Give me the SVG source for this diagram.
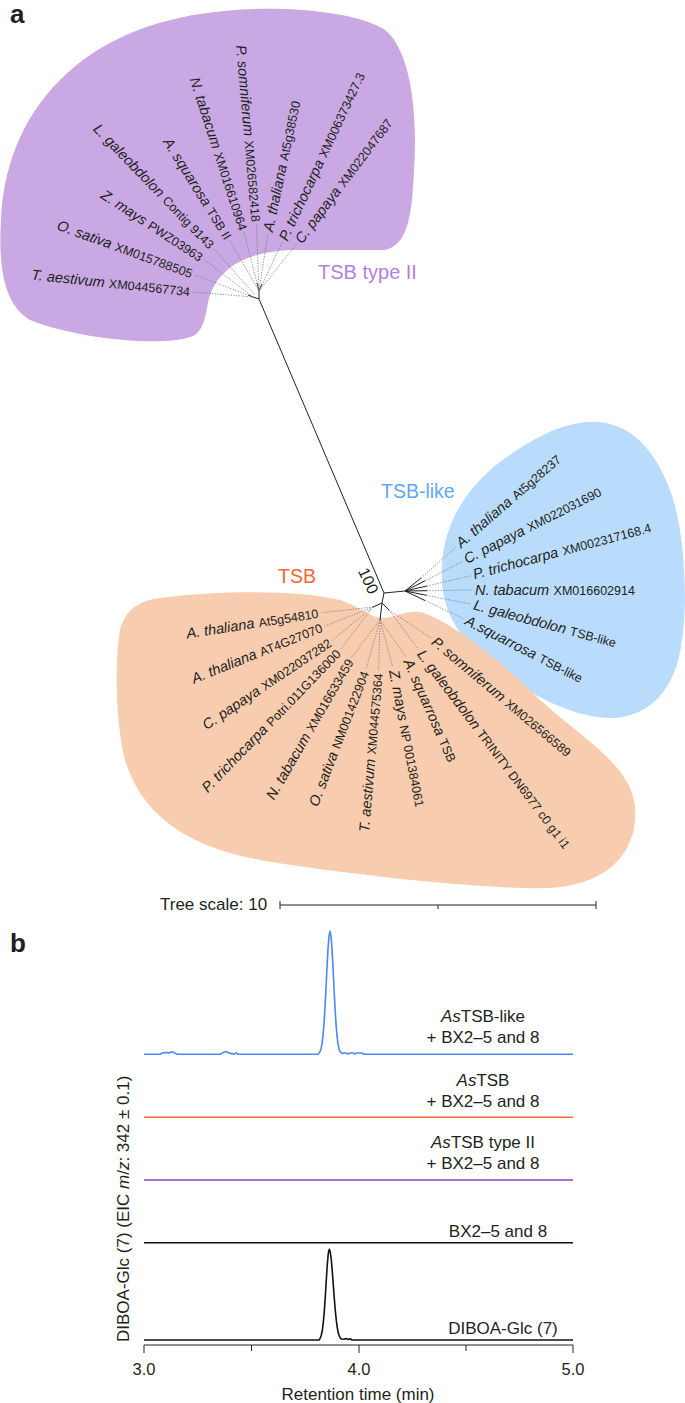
<svg xmlns="http://www.w3.org/2000/svg" width="685" height="1403" viewBox="0 0 685 1403">
<style>
text{font-family:"Liberation Sans",Arial,sans-serif;fill:#231f20}
.sp{font-style:italic;font-size:14.5px}
.ac{font-size:12.5px}
.dot{stroke:#777;stroke-width:0.8;stroke-dasharray:1.3 1.4;fill:none}
.br{stroke:#222;stroke-width:1;fill:none}
.pl{font-size:17px}
.tr{fill:none;stroke-width:1.6;stroke-linejoin:round}
.ax{stroke:#222;stroke-width:1;fill:none}
.it{font-style:italic}
</style>
<rect width="685" height="1403" fill="#fff"/>
<text x="10" y="23" style="font-weight:bold;font-size:26px">a</text>
<text x="10" y="952" style="font-weight:bold;font-size:26px">b</text>

<g id="clade-tsb2">
<path d="M200,14 C260,4 350,8 385,30 C410,50 418,110 414,170 C412,215 408,245 385,250 L300,250 C255,250 225,262 212,290 C205,305 208,325 195,335 C170,348 80,340 30,320 C5,305 -2,270 1,220 C3,170 20,120 60,80 C100,40 150,22 200,14 Z" fill="#c9a8e4"/>
<text x="318" y="279" style="font-size:20px;fill:#b47fdf">TSB type II</text>
</g>
<g id="clade-tsblike">
<path d="M590,422 C630,420 655,450 670,490 C685,530 688,600 682,640 C676,690 650,715 615,718 C570,720 510,685 475,650 C450,625 440,600 442,565 C444,520 470,485 500,462 C530,440 560,423 590,422 Z" fill="#badcfc"/>
<text x="381" y="498" style="font-size:19.5px;fill:#5ea8f4">TSB-like</text>
</g>
<g id="clade-tsb">
<path d="M160,598 C220,590 300,590 340,600 C360,607 372,618 382,618 C395,618 405,610 420,612 C450,620 500,660 540,700 C590,745 640,770 635,820 C632,860 600,885 550,888 C480,890 330,872 260,860 C180,845 140,810 125,760 C115,720 115,660 120,630 C125,610 140,600 160,598 Z" fill="#f8ccaf"/>
<text x="278" y="583" style="font-size:19.5px;fill:#f4662c">TSB</text>
</g>

<g id="connectors">
<path class="br" d="M259,299 L384,593 M259,299 L253,297 M259,299 L259,291 M259,291 L257,283 M259,291 L262,284 M253,297 L248,295"/>
<path class="br" d="M384,593 L405,591 M405,591 L421,578 M405,591 L425,580.8 M405,591 L427,586 M405,591 L427,590.7 M405,591 L426.6,595.3 M405,591 L425,600.5"/>
<path class="br" d="M384,593 L382,603 M382,603 L373,607 M382,603 L380,620 M382,603 L389,610"/>
<path class="dot" d="M193,292 L253,297 M194.8,275 L253,297 M204.2,259.9 L253,297 M213.8,248.9 L255,295 M229.9,240.8 L259,291 M244.2,232.9 L259,291 M256.3,224.7 L259,291 M267.7,234.6 L259,291 M282,242.7 L259,291 M296.5,244.1 L259,291"/>
<path class="dot" d="M421,578 L456,547 M425,580.8 L462.3,561.4 M427,586 L470.4,575.8 M427,590.7 L472,590 M426.6,595.3 L471.1,604.2 M425,600.5 L463.3,618.6"/>
<path class="dot" d="M373,607 L321.3,612.8 M373,607 L324.5,626.2 M373,607 L332.5,640 M373,607 L340.4,649.5 M380,620 L351.5,657.4 M380,620 L366.1,668.9 M380,620 L378.6,670.3 M380,620 L392.7,667 M380,620 L406.1,657.3 M389,610 L418.2,649.3 M389,610 L431,638.1"/>
</g>
<text transform="translate(368.3,580.8) rotate(65)" text-anchor="middle" y="5.5" style="font-size:16px">100</text>

<g id="leaves-tsb2">
<g id="p1"><text transform="translate(189.5,296.2) rotate(6)" text-anchor="end"><tspan class="sp">T. aestivum</tspan> <tspan class="ac">XM044567734</tspan></text></g>
<g id="p2"><text transform="translate(190.5,278.2) rotate(20)" text-anchor="end"><tspan class="sp">O. sativa</tspan> <tspan class="ac">XM015788505</tspan></text></g>
<g id="p3"><text transform="translate(199.2,262.1) rotate(33)" text-anchor="end"><tspan class="sp">Z. mays</tspan> <tspan class="ac">PWZ03963</tspan></text></g>
<g id="p4"><text transform="translate(208.5,249.8) rotate(46)" text-anchor="end"><tspan class="sp">L. galeobdolon</tspan> <tspan class="ac">Contig 9143</tspan></text></g>
<g id="p5"><text transform="translate(224.5,240.7) rotate(58)" text-anchor="end"><tspan class="sp">A. squarosa</tspan> <tspan class="ac">TSB II</tspan></text></g>
<g id="p6"><text transform="translate(239,231.4) rotate(72)" text-anchor="end"><tspan class="sp">N. tabacum</tspan> <tspan class="ac">XM016610964</tspan></text></g>
<g id="p7"><text transform="translate(251.5,222.1) rotate(85)" text-anchor="end"><tspan class="sp">P. somniferum</tspan> <tspan class="ac">XM026582418</tspan></text></g>
<g id="p8"><text transform="translate(272.7,232.6) rotate(-78)"><tspan class="sp">A. thaliana</tspan> <tspan class="ac">At5g38530</tspan></text></g>
<g id="p9"><text transform="translate(287.4,241.9) rotate(-65)"><tspan class="sp">P. trichocarpa</tspan> <tspan class="ac">XM006373427.3</tspan></text></g>
<g id="p10"><text transform="translate(301.9,244.4) rotate(-53)"><tspan class="sp">C. papaya</tspan> <tspan class="ac">XM022047687</tspan></text></g>
</g>

<g id="leaves-tsblike">
<g id="b1"><text transform="translate(461.3,548.4) rotate(-41)"><tspan class="sp">A. thaliana</tspan> <tspan class="ac">At5g28237</tspan></text></g>
<g id="b2"><text transform="translate(467,564) rotate(-27)"><tspan class="sp">C. papaya</tspan> <tspan class="ac">XM022031690</tspan></text></g>
<g id="b3"><text transform="translate(474.5,579.3) rotate(-15)"><tspan class="sp">P. trichocarpa</tspan> <tspan class="ac">XM002317168.4</tspan></text></g>
<g id="b4"><text transform="translate(475,594.5)"><tspan class="sp">N. tabacum</tspan> <tspan class="ac">XM016602914</tspan></text></g>
<g id="b5"><text transform="translate(472.8,609.3) rotate(15)"><tspan class="sp">L. galeobdolon</tspan> <tspan class="ac">TSB-like</tspan></text></g>
<g id="b6"><text transform="translate(464,624) rotate(27)"><tspan class="sp">A.squarrosa</tspan> <tspan class="ac">TSB-like</tspan></text></g>
</g>

<g id="leaves-tsb">
<g id="o1"><text transform="translate(319,617.7) rotate(-9)" text-anchor="end"><tspan class="sp">A. thaliana</tspan> <tspan class="ac">At5g54810</tspan></text></g>
<g id="o2"><text transform="translate(323.4,631.5) rotate(-22)" text-anchor="end"><tspan class="sp">A. thaliana</tspan> <tspan class="ac">AT4G27070</tspan></text></g>
<g id="o3"><text transform="translate(332.5,645.4) rotate(-34)" text-anchor="end"><tspan class="sp">C. papaya</tspan> <tspan class="ac">XM022037282</tspan></text></g>
<g id="o4"><text transform="translate(341.5,654.8) rotate(-46)" text-anchor="end"><tspan class="sp">P. trichocarpa</tspan> <tspan class="ac">Potri.011G136000</tspan></text></g>
<g id="o5"><text transform="translate(353.9,662.3) rotate(-60)" text-anchor="end"><tspan class="sp">N. tabacum</tspan> <tspan class="ac">XM016633459</tspan></text></g>
<g id="o6"><text transform="translate(369.2,673.3) rotate(-69)" text-anchor="end"><tspan class="sp">O. sativa</tspan> <tspan class="ac">NM001422904</tspan></text></g>
<g id="o7"><text transform="translate(382.8,673.7) rotate(-85)" text-anchor="end"><tspan class="sp">T. aestivum</tspan> <tspan class="ac">XM044575364</tspan></text></g>
<g id="o8"><text transform="translate(388.9,670.9) rotate(79)"><tspan class="sp">Z. mays</tspan> <tspan class="ac">NP 001384061</tspan></text></g>
<g id="o9"><text transform="translate(403.2,661.8) rotate(66)"><tspan class="sp">A. squarrosa</tspan> <tspan class="ac">TSB</tspan></text></g>
<g id="o10"><text transform="translate(416.4,654.4) rotate(53)"><tspan class="sp">L. galeobdolon</tspan> <tspan class="ac">TRINITY DN6977 c0 g1 i1</tspan></text></g>
<g id="o11"><text transform="translate(430.4,643.4) rotate(40)"><tspan class="sp">P. somniferum</tspan> <tspan class="ac">XM026566589</tspan></text></g>
</g>

<g id="scale">
<text x="160" y="910" class="pl">Tree scale: 10</text>
<path class="ax" d="M280,905 L596,905 M280,901 L280,909 M596,901 L596,909 M438,905 L438,909"/>
</g>

<g id="chromatogram">
<path class="tr" stroke="#4d86f5" d="M144,1054.3 L160,1054.3 L162,1053 L166,1052.6 L170,1052.8 L172,1051.8 L174,1052.6 L177,1054.3 L220,1054.3 L223,1052.6 L226,1051.5 L229,1053 L232,1053.6 L234,1054.3 L236,1052.9 L238,1054.3 L318,1054.3 L319,1053.1 L320,1051.7 L321,1048.9 L322,1043.8 L323,1035.7 L324,1023.7 L325,1007.4 L326,988 L327,967.3 L328,948.9 L329,936 L330,931.3 L331,936 L332,948.9 L333,967.3 L334,988 L335,1007.4 L336,1023.7 L337,1035.7 L338,1043.8 L339,1048.9 L340,1051.7 L342,1053.5 L344,1053 L346,1053 L348,1054 L350,1053 L353,1053 L355,1054 L356,1053 L362,1053 L364,1054.3 L573,1054.3"/>
<path class="tr" stroke="#f26a30" d="M144,1117.3 L573,1117.3"/>
<path class="tr" stroke="#8b3fc7" d="M144,1180 L573,1180"/>
<path class="tr" stroke="#111" d="M144,1242.7 L573,1242.7"/>
<path class="tr" stroke="#111" d="M144,1340 L319.3,1340 L320.3,1337.8 L321.3,1335.2 L322.3,1330.5 L323.3,1322.7 L324.3,1311.2 L325.3,1296.5 L326.3,1280 L327.3,1264.5 L328.3,1253.4 L329.3,1249.3 L330.3,1252.1 L331.3,1260 L332.3,1271.5 L333.3,1285 L334.3,1298.5 L335.3,1310.5 L336.3,1320.4 L337.3,1327.8 L338.3,1332.8 L339.3,1336 L340.3,1338 L341.3,1339 L344,1339.2 L346,1338.5 L348,1339.5 L350,1338.8 L352,1340 L573,1340"/>
<path class="ax" d="M144,1345 L573,1345 M144,1345 L144,1353 M359,1345 L359,1353 M573,1345 L573,1353 M251.5,1345 L251.5,1351 M466,1345 L466,1351"/>
<g class="pl" text-anchor="middle">
<text x="483" y="1021.7"><tspan class="it">As</tspan>TSB-like</text>
<text x="483" y="1042.7">+ BX2–5 and 8</text>
<text x="483" y="1085.7"><tspan class="it">As</tspan>TSB</text>
<text x="483" y="1106.7">+ BX2–5 and 8</text>
<text x="483" y="1148.3"><tspan class="it">As</tspan>TSB type II</text>
<text x="483" y="1169.3">+ BX2–5 and 8</text>
<text x="498" y="1237.3">BX2–5 and 8</text>
<text x="503" y="1334">DIBOA-Glc (7)</text>
<text x="144" y="1375" style="font-size:16.5px">3.0</text>
<text x="359" y="1375" style="font-size:16.5px">4.0</text>
<text x="573" y="1375" style="font-size:16.5px">5.0</text>
<text x="358" y="1400">Retention time (min)</text>
</g>
<text class="pl" transform="translate(129,1342) rotate(-90)">DIBOA-Glc (7) (EIC <tspan class="it">m</tspan>/<tspan class="it">z</tspan>: 342 ± 0.1)</text>
</g>
</svg>
